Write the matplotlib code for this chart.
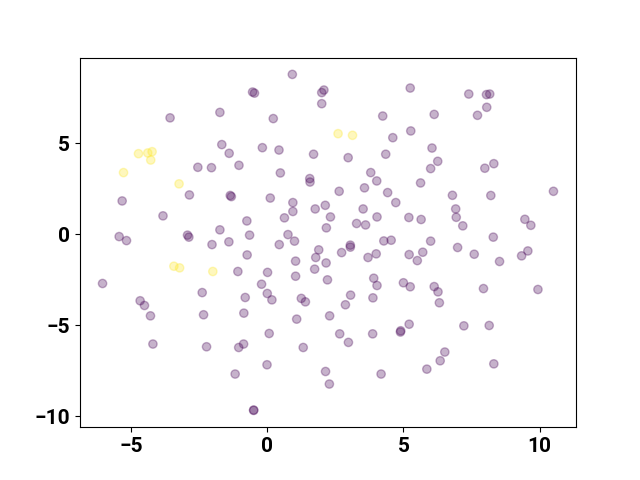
import matplotlib
matplotlib.use("Agg")
import matplotlib.pyplot as plt
from matplotlib.ticker import MultipleLocator

plt.rcParams['font.family'] = ['Roboto', 'DejaVu Sans']
plt.rcParams['font.weight'] = 'bold'

# point coordinates (label 0 = purple, 1 = yellow)
xs = [-3.57, -1.74, -5.33, -1.67, -1.40, -2.55, -2.05, -1.04, -2.86, -1.36,
      -1.32, -3.83, -0.75, -5.44, -5.17, -2.93, -2.88, -1.74, -1.41, -2.03,
      -0.65, 0.92, -0.54, -0.47, 2.00, 2.08, 2.00, 5.25, 0.22, 4.24,
      4.61, 5.27, -0.18, 0.43, 1.70, 2.97, 4.35, 0.48, 1.56, 1.57,
      3.80, 4.02, 2.64, 3.57, 4.42, 4.72, 0.11, 0.94, 0.94, 0.63,
      1.76, 2.13, 2.32, 2.17, 3.52, 4.03, 3.28, 3.61, 5.20, 0.76,
      1.00, 0.44, 3.05, 4.28, 4.55, 7.40, 8.05, 8.17, 8.06, 7.72,
      6.13, 6.05, 6.26, 6.00, 7.99, 8.32, 5.63, 6.80, 8.21, 10.51,
      6.92, 6.94, 7.18, 5.65, 9.46, 9.68, 6.00, 8.30, 6.99, -0.74,
      -1.08, -6.05, -2.39, -0.81, -4.67, -4.51, -4.29, -2.34, -0.86, -4.20,
      -2.23, -1.05, -0.87, -1.18, 1.89, 1.78, 2.16, 1.74, 1.04, 1.04,
      0.01, -0.21, 0.00, 0.17, 1.25, 1.40, 2.21, 2.73, 3.05, 3.70,
      4.00, 5.21, 5.51, 5.71, 3.91, 4.03, 5.00, 5.25, 3.06, 2.87,
      3.88, 1.08, 2.29, 0.07, 2.66, 2.98, 3.87, 4.89, 4.90, 5.21,
      1.32, -0.01, 2.14, 2.28, 4.18, -0.50, -0.50, 7.60, 8.53, 9.34,
      9.57, 6.13, 6.27, 6.32, 7.94, 9.94, 7.22, 8.15, 6.52, 6.35,
      5.86, 8.32,
      -4.73, -4.39, -4.23, -4.28, -5.28, -3.24, 2.60, 3.13, -3.43, -3.22,
      -2.00]
ys = [6.40, 6.70, 1.83, 4.93, 4.45, 3.68, 3.66, 3.79, 2.16, 2.13,
      2.07, 1.01, 0.73, -0.13, -0.35, -0.05, -0.16, 0.24, -0.42, -0.57,
      -0.05, 8.79, 7.82, 7.76, 7.79, 7.93, 7.18, 8.04, 6.36, 6.50,
      5.31, 5.68, 4.76, 4.63, 4.40, 4.21, 4.40, 3.37, 3.06, 2.87,
      3.39, 2.93, 2.36, 2.55, 2.29, 1.74, 1.99, 1.74, 1.25, 0.90,
      1.39, 1.59, 0.95, 0.35, 1.39, 0.95, 0.59, 0.51, 0.92, -0.02,
      -0.38, -0.57, -0.60, -0.37, -0.33, 7.71, 7.68, 7.71, 6.98, 6.54,
      6.59, 4.74, 4.01, 3.61, 3.63, 3.88, 2.82, 2.14, 2.13, 2.36,
      1.39, 0.93, 0.46, 0.81, 0.82, 0.49, -0.38, -0.16, -0.73, -1.14,
      -2.05, -2.71, -3.21, -3.48, -3.66, -3.92, -4.49, -4.43, -4.34, -6.04,
      -6.19, -6.23, -6.04, -7.69, -0.86, -1.28, -1.58, -1.92, -1.48, -2.31,
      -2.10, -2.75, -3.26, -3.61, -3.53, -3.72, -2.51, -1.01, -0.71, -1.28,
      -1.08, -1.12, -1.45, -0.99, -2.42, -2.82, -2.67, -2.89, -3.35, -3.88,
      -3.50, -4.67, -4.49, -5.46, -5.48, -5.95, -5.48, -5.38, -5.31, -4.95,
      -6.23, -7.18, -7.55, -8.24, -7.69, -9.69, -9.67, -1.10, -1.50, -1.19,
      -0.92, -2.88, -3.17, -3.77, -2.99, -3.04, -5.04, -5.02, -6.48, -6.96,
      -7.42, -7.13,
      4.43, 4.47, 4.54, 4.08, 3.39, 2.77, 5.53, 5.44, -1.76, -1.85,
      -2.05]
labels = [0] * 162 + [1] * 11

fig, ax = plt.subplots(figsize=(6.4, 4.8), dpi=100)
ax.scatter(xs, ys, c=labels, cmap='viridis', alpha=0.3)
ax.xaxis.set_major_locator(MultipleLocator(5))
ax.yaxis.set_major_locator(MultipleLocator(5))
ax.tick_params(labelsize=15)
fig.savefig('out.png')
